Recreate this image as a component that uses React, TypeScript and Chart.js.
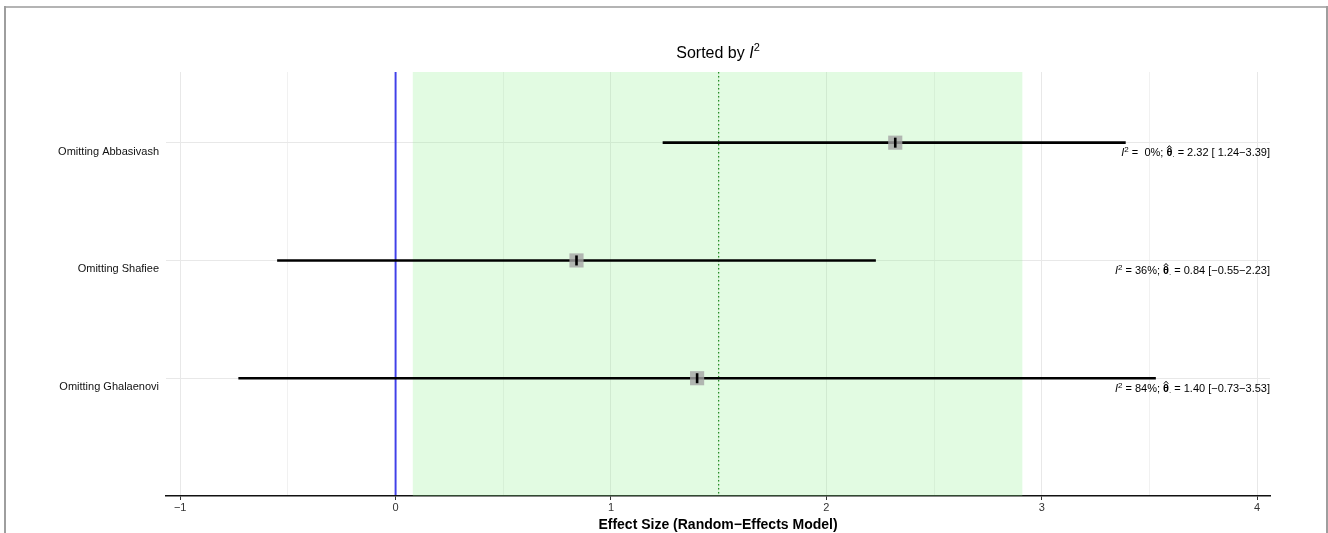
import React, { useEffect, useRef } from "react";
import { Chart, registerables } from "chart.js";

Chart.register(...registerables);

// ---------- data ----------
const studies = ["Omitting Abbasivash", "Omitting Shafiee", "Omitting Ghalaenovi"];
const estimates = [2.32, 0.84, 1.4];
const lowerCI = [1.24, -0.55, -0.73];
const upperCI = [3.39, 2.23, 3.53];
const i2Values = [0, 36, 84];
const xTickValues = [-1, -0.5, 0, 0.5, 1, 1.5, 2, 2.5, 3, 3.5, 4];
const pooledEstimate = 1.5;
const pooledLower = 0.08;
const pooledUpper = 2.91;
const nullEffect = 0;
const titleText = "Sorted by ";
const xAxisTitle = "Effect Size (Random\u2212Effects Model)";

const FAMILY = '"Liberation Sans", Arial, Helvetica, sans-serif';

const isInt = (v: number) => Math.abs(v - Math.round(v)) < 1e-9;
const fmtNum = (v: number) => (v < 0 ? "\u2212" : "") + Math.abs(v).toFixed(2);
const fmtPad = (v: number) => (v < 0 ? "\u2212" : " ") + Math.abs(v).toFixed(2);
const fmtTick = (v: number) => (v < 0 ? "\u2212" : "") + Math.abs(v).toString();

type Piece = { t: string; font: string; dy?: number; hat?: boolean };

function drawPieces(ctx: CanvasRenderingContext2D, pieces: Piece[], x: number, y: number, align: "right" | "center") {
  let total = 0;
  const widths = pieces.map((p) => {
    ctx.font = p.font;
    const w = ctx.measureText(p.t).width;
    total += w;
    return w;
  });
  let cx = align === "right" ? x - total : x - total / 2;
  pieces.forEach((p, i) => {
    ctx.font = p.font;
    ctx.textAlign = "left";
    ctx.fillText(p.t, cx, y + (p.dy || 0));
    if (p.hat) {
      const mid = cx + widths[i] / 2;
      const top = y - 9.5;
      ctx.save();
      ctx.lineWidth = 1;
      ctx.beginPath();
      ctx.moveTo(mid - 2.2, top + 1.5);
      ctx.lineTo(mid, top - 1);
      ctx.lineTo(mid + 2.2, top + 1.5);
      ctx.stroke();
      ctx.restore();
    }
    cx += widths[i];
  });
}

const overlayPlugin = {
  id: "forestOverlay",
  beforeDatasetsDraw(chart: any) {
    const { ctx, chartArea: a, scales } = chart;
    const x = scales.x;
    ctx.save();
    const b0 = x.getPixelForValue(pooledLower);
    const b1 = x.getPixelForValue(pooledUpper);
    ctx.fillStyle = "rgba(144,238,144,0.26)";
    ctx.fillRect(b0, a.top, b1 - b0, a.bottom - a.top);

    const xn = x.getPixelForValue(nullEffect);
    ctx.strokeStyle = "rgba(0,0,230,0.72)";
    ctx.lineWidth = 2;
    ctx.beginPath();
    ctx.moveTo(xn, a.top);
    ctx.lineTo(xn, a.bottom - 1);
    ctx.stroke();

    const xp = x.getPixelForValue(pooledEstimate);
    ctx.strokeStyle = "#1f8a1f";
    ctx.lineWidth = 1.2;
    ctx.setLineDash([1.5, 2.5]);
    ctx.beginPath();
    ctx.moveTo(xp, a.top);
    ctx.lineTo(xp, a.bottom - 1);
    ctx.stroke();
    ctx.restore();
  },
  afterDraw(chart: any) {
    const { ctx, chartArea: a, scales } = chart;
    const y = scales.y;
    const cxMid = (a.left + a.right) / 2;
    ctx.save();
    ctx.fillStyle = "#000";
    ctx.strokeStyle = "#000";
    ctx.textBaseline = "alphabetic";

    // title
    drawPieces(
      ctx,
      [
        { t: titleText, font: `16px ${FAMILY}` },
        { t: "I", font: `italic 16px ${FAMILY}` },
        { t: "2", font: `11px ${FAMILY}`, dy: -7 },
      ],
      cxMid,
      58,
      "center"
    );

    // x-axis title
    ctx.font = `bold 14px ${FAMILY}`;
    ctx.textAlign = "center";
    ctx.fillText(xAxisTitle, cxMid, 529);

    // right-side statistics
    const base = `11px ${FAMILY}`;
    studies.forEach((_, i) => {
      const py = y.getPixelForValue(i + 1) + 13.5;
      const i2txt = (i2Values[i] < 10 ? " " : "") + i2Values[i] + "%";
      drawPieces(
        ctx,
        [
          { t: "I", font: `italic ${base}` },
          { t: "2", font: `8px ${FAMILY}`, dy: -4 },
          { t: " = " + i2txt + "; ", font: base },
          { t: "\u03b8", font: `bold ${base}`, hat: true },
          { t: ".", font: `8px ${FAMILY}`, dy: 1 },
          { t: " = " + estimates[i].toFixed(2) + " [" + fmtPad(lowerCI[i]) + "\u2212" + fmtNum(upperCI[i]) + "]", font: base },
        ],
        a.right,
        py,
        "right"
      );
    });

    // outer frame
    ctx.fillStyle = "#b4b4b4";
    ctx.fillRect(4, 6, 1324, 2);
    ctx.fillStyle = "#9e9e9e";
    ctx.fillRect(4, 6, 2, 540);
    ctx.fillRect(1326, 6, 2, 540);
    ctx.restore();
  },
};

export default function App() {
  const ref = useRef<HTMLCanvasElement | null>(null);

  useEffect(() => {
    if (!ref.current) return;
    const rows = studies.map((_, i) => i + 1);

    const ciDatasets = rows.map((r, i) => ({
      type: "line" as const,
      label: "ci" + i,
      data: [
        { x: lowerCI[i], y: r },
        { x: upperCI[i], y: r },
      ],
      borderColor: "#000",
      borderWidth: 2.6,
      pointRadius: 0,
      showLine: true,
      fill: false,
      order: 3,
    }));

    const chart = new Chart(ref.current, {
      type: "scatter",
      data: {
        datasets: [
          {
            label: "tick",
            data: rows.map((r, i) => ({ x: estimates[i], y: r })),
            pointStyle: "line",
            rotation: 90,
            pointRadius: 5,
            borderColor: "#000",
            backgroundColor: "#000",
            borderWidth: 2.6,
            order: 1,
          } as any,
          {
            label: "est",
            data: rows.map((r, i) => ({ x: estimates[i], y: r })),
            pointStyle: "rect",
            pointRadius: 10,
            backgroundColor: "rgba(165,165,165,0.8)",
            borderWidth: 0,
            borderColor: "rgba(0,0,0,0)",
            order: 2,
          } as any,
          ...ciDatasets,
        ],
      },
      options: {
        animation: false,
        responsive: false,
        maintainAspectRatio: false,
        devicePixelRatio: 1,
        layout: { padding: { left: 0, right: 58, top: 72, bottom: 0 } },
        plugins: {
          legend: { display: false },
          title: { display: false },
          tooltip: { enabled: false },
        },
        events: [],
        scales: {
          x: {
            type: "linear",
            min: -1.066,
            max: 4.06,
            afterBuildTicks: (s: any) => {
              s.ticks = xTickValues.map((v) => ({ value: v }));
            },
            afterFit: (s: any) => {
              s.height = 37;
            },
            grid: {
              color: (c: any) => (isInt(c.tick?.value ?? 0) ? "#e8e8e8" : "#f1f1f1"),
              tickColor: (c: any) => (isInt(c.tick?.value ?? 0) ? "#333" : "rgba(0,0,0,0)"),
              lineWidth: 1,
              tickLength: 4,
              drawTicks: true,
            },
            border: { display: true, color: "#111", width: 1.5 },
            ticks: {
              autoSkip: false,
              maxRotation: 0,
              padding: 1,
              color: "#333",
              font: { size: 11, family: FAMILY },
              callback: (v: any) => (isInt(Number(v)) ? fmtTick(Number(v)) : ""),
            },
          },
          y: {
            type: "linear",
            reverse: true,
            min: 0.4,
            max: 4.0,
            afterBuildTicks: (s: any) => {
              s.ticks = rows.map((v) => ({ value: v }));
            },
            afterFit: (s: any) => {
              s.width = 166;
            },
            grid: { color: "#e8e8e8", lineWidth: 1, drawTicks: false },
            border: { display: false },
            ticks: {
              padding: 7,
              labelOffset: 9,
              color: "#111",
              font: { size: 11, family: FAMILY },
              callback: (v: any) => studies[Number(v) - 1] ?? "",
            },
          },
        },
      },
      plugins: [overlayPlugin],
    } as any);

    return () => chart.destroy();
  }, []);

  return (
    <div style={{ position: "absolute", left: 0, top: 0, width: 1328, height: 533, background: "#fff" }}>
      <canvas ref={ref} width={1328} height={533} style={{ width: 1328, height: 533, display: "block" }} />
    </div>
  );
}
